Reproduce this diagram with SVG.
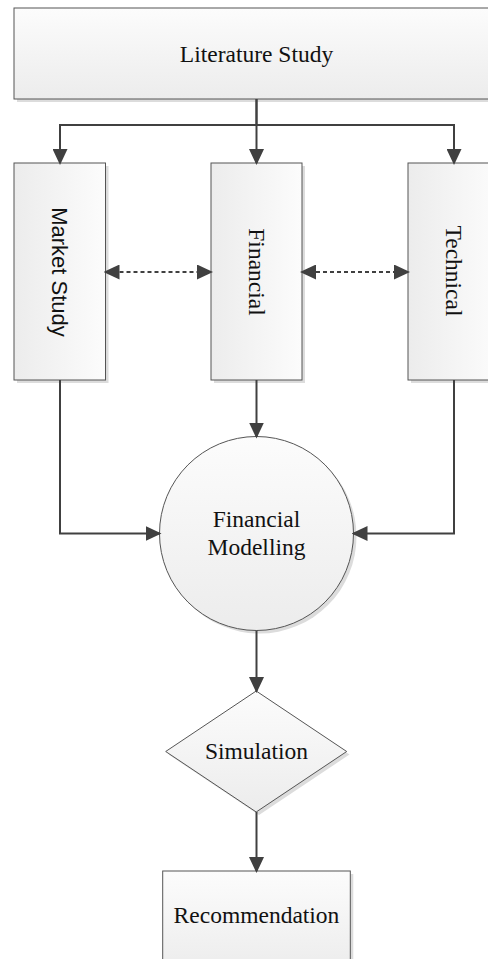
<svg xmlns="http://www.w3.org/2000/svg" width="488" height="959" viewBox="0 0 488 959">
<defs>
<linearGradient id="gh" x1="0" y1="0" x2="1" y2="0"><stop offset="0" stop-color="#ececec"/><stop offset="1" stop-color="#fcfcfc"/></linearGradient>
<linearGradient id="gv" x1="0" y1="0" x2="0" y2="1"><stop offset="0" stop-color="#fcfcfc"/><stop offset="1" stop-color="#ececec"/></linearGradient>
<marker id="ah" viewBox="0 0 16 15" refX="14" refY="7.5" markerWidth="16" markerHeight="15" markerUnits="userSpaceOnUse" orient="auto-start-reverse"><path d="M0,0 L16,7.5 L0,15 z" fill="#404040"/></marker>
</defs>
<style>
.box{stroke:#555;stroke-width:1}
.sh{fill:#dcdcdc}
.conn{fill:none;stroke:#404040;stroke-width:2}
.dash{stroke-dasharray:4 3}
.serif{font-family:"Liberation Serif","Times New Roman",serif;font-size:23.5px;fill:#111}
.sans{font-family:"Liberation Sans",Arial,sans-serif;font-size:22px;fill:#111}
</style>
<g id="literature">
<rect class="sh" x="17" y="11" width="486" height="91"/>
<rect class="box" x="14" y="8" width="486" height="91" fill="url(#gv)"/>
<text class="serif" x="256.5" y="61.5" text-anchor="middle">Literature Study</text>
</g>
<g id="market">
<rect class="sh" x="17" y="166" width="91.5" height="217"/>
<rect class="box" x="14" y="163" width="91.5" height="217" fill="url(#gh)"/>
<text class="sans" transform="translate(59.8,272) rotate(90)" x="0" y="8" text-anchor="middle">Market Study</text>
</g>
<g id="financial">
<rect class="sh" x="214" y="166" width="91" height="217"/>
<rect class="box" x="211" y="163" width="91" height="217" fill="url(#gh)"/>
<text class="serif" transform="translate(256.5,272) rotate(90)" x="0" y="8" text-anchor="middle">Financial</text>
</g>
<g id="technical">
<rect class="sh" x="411" y="166" width="91" height="217"/>
<rect class="box" x="408" y="163" width="91" height="217" fill="url(#gh)"/>
<text class="serif" transform="translate(453.5,271) rotate(90)" x="0" y="8" text-anchor="middle">Technical</text>
</g>
<g id="modelling">
<circle class="sh" cx="259.5" cy="536.5" r="97"/>
<circle class="box" cx="256.5" cy="533.5" r="97" fill="url(#gv)"/>
<text class="serif" x="256.5" y="527" text-anchor="middle">Financial</text>
<text class="serif" x="256.5" y="555" text-anchor="middle">Modelling</text>
</g>
<g id="simulation">
<path class="sh" d="M259,694 L349.5,754.5 L259,815 L168.5,754.5 z"/>
<path class="box" d="M256.2,691 L346.7,751.5 L256.2,812 L165.7,751.5 z" fill="url(#gv)"/>
<text class="serif" x="256.5" y="759" text-anchor="middle">Simulation</text>
</g>
<g id="recommendation">
<rect class="sh" x="165.7" y="874" width="187.6" height="100"/>
<rect class="box" x="162.7" y="871" width="187.6" height="100" fill="url(#gv)"/>
<text class="serif" x="256.5" y="922.5" text-anchor="middle">Recommendation</text>
</g>
<g id="connectors">
<path class="conn" d="M256.5,99 V125 H60 V163" marker-end="url(#ah)"/>
<path class="conn" d="M256.5,99 V163" marker-end="url(#ah)"/>
<path class="conn" d="M256.5,125 H454 V163" marker-end="url(#ah)"/>
<path class="conn dash" d="M105.5,272 H211" marker-start="url(#ah)" marker-end="url(#ah)"/>
<path class="conn dash" d="M302,272 H408" marker-start="url(#ah)" marker-end="url(#ah)"/>
<path class="conn" d="M60,380 V533.5 H159.5" marker-end="url(#ah)"/>
<path class="conn" d="M256.5,380 V436.5" marker-end="url(#ah)"/>
<path class="conn" d="M454,380 V533.5 H353.5" marker-end="url(#ah)"/>
<path class="conn" d="M256.5,630.5 V691" marker-end="url(#ah)"/>
<path class="conn" d="M256.5,812 V871" marker-end="url(#ah)"/>
</g>
</svg>
